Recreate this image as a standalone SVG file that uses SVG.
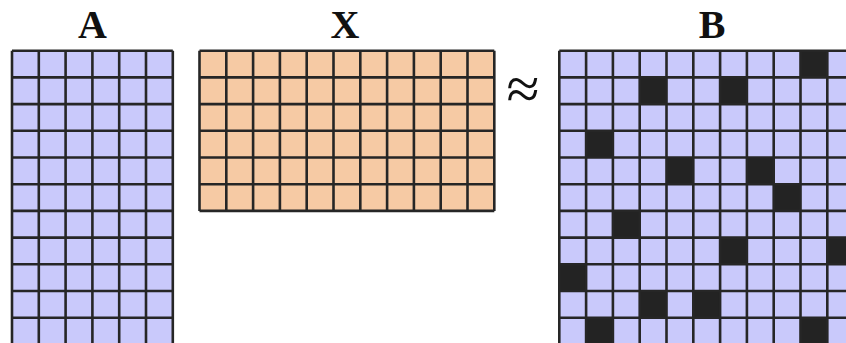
<svg xmlns="http://www.w3.org/2000/svg" width="846" height="343" viewBox="0 0 846 343">
<style>
.lbl{font-family:"Liberation Serif","DejaVu Serif",serif;font-weight:bold;font-size:40px;text-anchor:middle;fill:#111}
.grid{fill:none;stroke:#262626;stroke-width:2.6}
.blue{fill:#c9c9fb}
.orange{fill:#f6caa4}
.dark{fill:#232323}
</style>
<rect width="846" height="343" fill="#ffffff"/>
<g id="matrixA">
<text class="lbl" x="92.4" y="38">A</text>
<rect class="blue" x="12" y="50.7" width="160.8" height="294"/>
<path class="grid" d="M12 50.7V345M38.8 50.7V345M65.6 50.7V345M92.4 50.7V345M119.2 50.7V345M146 50.7V345M172.8 50.7V345M12 50.7H172.8M12 77.4H172.8M12 104.1H172.8M12 130.8H172.8M12 157.5H172.8M12 184.2H172.8M12 210.9H172.8M12 237.6H172.8M12 264.3H172.8M12 291H172.8M12 317.7H172.8M12 344.4H172.8"/>
</g>
<g id="matrixX">
<text class="lbl" x="345" y="38">X</text>
<rect class="orange" x="199.5" y="50.7" width="294.8" height="160.2"/>
<path class="grid" d="M199.5 50.7V210.9M226.3 50.7V210.9M253.1 50.7V210.9M279.9 50.7V210.9M306.7 50.7V210.9M333.5 50.7V210.9M360.3 50.7V210.9M387.1 50.7V210.9M413.9 50.7V210.9M440.7 50.7V210.9M467.5 50.7V210.9M494.3 50.7V210.9M199.5 50.7H494.3M199.5 77.4H494.3M199.5 104.1H494.3M199.5 130.8H494.3M199.5 157.5H494.3M199.5 184.2H494.3M199.5 210.9H494.3"/>
</g>
<g id="approx">
<text x="523" y="109" style="font-family:'Liberation Serif',serif;font-size:60px;text-anchor:middle;fill:#111">≈</text>
</g>
<g id="matrixB">
<text class="lbl" x="712" y="38">B</text>
<rect class="blue" x="559.3" y="50.7" width="300" height="294"/>
<rect class="dark" x="800.5" y="50.7" width="26.8" height="26.7"/>
<rect class="dark" x="639.7" y="77.4" width="26.8" height="26.7"/>
<rect class="dark" x="720.1" y="77.4" width="26.8" height="26.7"/>
<rect class="dark" x="586.1" y="130.8" width="26.8" height="26.7"/>
<rect class="dark" x="666.5" y="157.5" width="26.8" height="26.7"/>
<rect class="dark" x="746.9" y="157.5" width="26.8" height="26.7"/>
<rect class="dark" x="773.7" y="184.2" width="26.8" height="26.7"/>
<rect class="dark" x="612.9" y="210.9" width="26.8" height="26.7"/>
<rect class="dark" x="720.1" y="237.6" width="26.8" height="26.7"/>
<rect class="dark" x="827.3" y="237.6" width="26.8" height="26.7"/>
<rect class="dark" x="559.3" y="264.3" width="26.8" height="26.7"/>
<rect class="dark" x="639.7" y="291" width="26.8" height="26.7"/>
<rect class="dark" x="693.3" y="291" width="26.8" height="26.7"/>
<rect class="dark" x="586.1" y="317.7" width="26.8" height="26.7"/>
<rect class="dark" x="800.5" y="317.7" width="26.8" height="26.7"/>
<path class="grid" d="M559.3 50.7V345M586.1 50.7V345M612.9 50.7V345M639.7 50.7V345M666.5 50.7V345M693.3 50.7V345M720.1 50.7V345M746.9 50.7V345M773.7 50.7V345M800.5 50.7V345M827.3 50.7V345M559.3 50.7H860M559.3 77.4H860M559.3 104.1H860M559.3 130.8H860M559.3 157.5H860M559.3 184.2H860M559.3 210.9H860M559.3 237.6H860M559.3 264.3H860M559.3 291H860M559.3 317.7H860M559.3 344.4H860"/>
</g>
</svg>
